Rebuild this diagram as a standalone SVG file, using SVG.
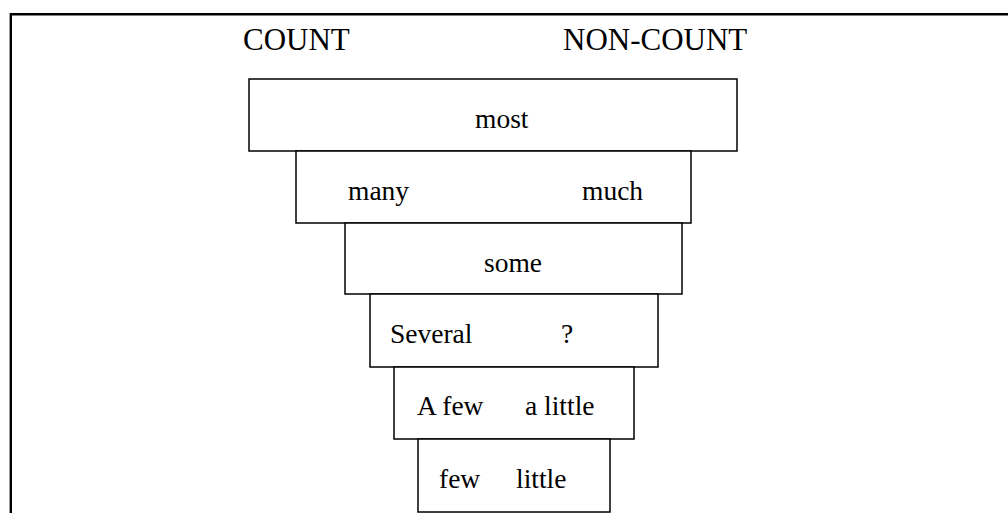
<svg xmlns="http://www.w3.org/2000/svg" width="1008" height="513" viewBox="0 0 1008 513">
<style>
.frame{fill:none;stroke:#000;stroke-width:2.4}
.box{fill:#fff;stroke:#000;stroke-width:1.5}
.hd{font-family:"Liberation Serif","Times New Roman",serif;font-size:31px;fill:#000}
.t{font-family:"Liberation Serif","Times New Roman",serif;font-size:27.5px;fill:#000}
</style>
<rect width="1008" height="513" fill="#fff"/>
<path class="frame" d="M10.8,513 V14.2 H1008"/>
<g id="headers">
<text class="hd" x="243" y="50">COUNT</text>
<text class="hd" x="563" y="50">NON-COUNT</text>
</g>
<g id="connectors"></g>
<g id="n-most">
<rect class="box" x="249" y="79" width="488" height="72"/>
<text class="t" x="475" y="128">most</text>
</g>
<g id="n-many-much">
<rect class="box" x="296" y="151" width="395" height="72"/>
<text class="t" x="348" y="200">many</text>
<text class="t" x="582" y="200">much</text>
</g>
<g id="n-some">
<rect class="box" x="345" y="223" width="337" height="71"/>
<text class="t" x="484" y="272">some</text>
</g>
<g id="n-several">
<rect class="box" x="370" y="294" width="288" height="73"/>
<text class="t" x="390" y="343">Several</text>
<text class="t" x="561" y="343">?</text>
</g>
<g id="n-afew">
<rect class="box" x="394" y="367" width="240" height="72"/>
<text class="t" x="417" y="415">A few</text>
<text class="t" x="525" y="415">a little</text>
</g>
<g id="n-few">
<rect class="box" x="418" y="439" width="192" height="73"/>
<text class="t" x="439" y="488">few</text>
<text class="t" x="516" y="488">little</text>
</g>
</svg>
